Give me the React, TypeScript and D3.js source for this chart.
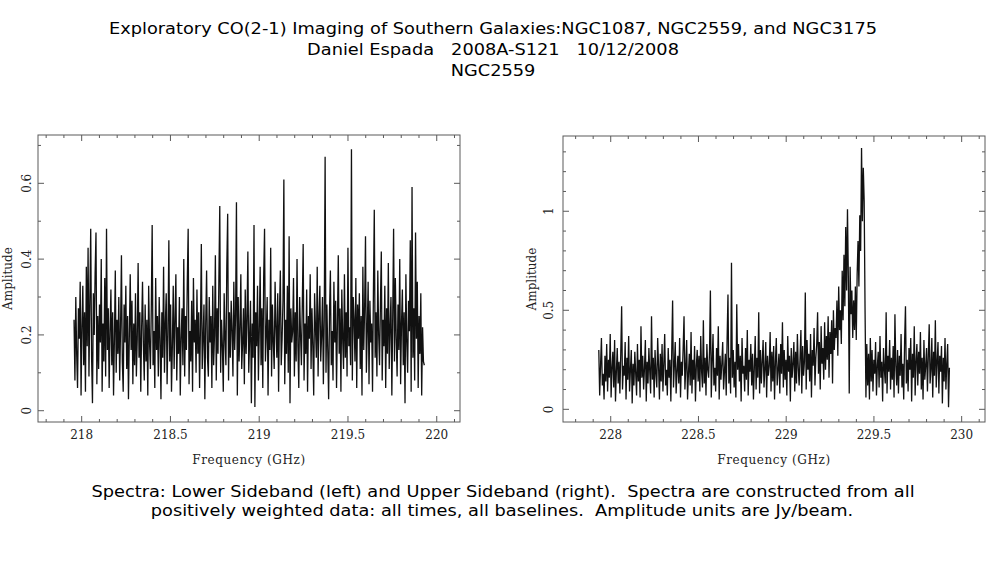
import React from "react";
import * as d3 from "d3";

// channel axis of each sideband (GHz)
const lsbStart = 217.957;
const lsbStep = 0.004945;
const usbStart = 227.932;
const usbStep = 0.005008;

// amplitudes (Jy/beam) (approx., noisy band)
const lsbAmp = [
  0.24, 0.08, 0.30, 0.15, 0.06, 0.27, 0.19, 0.34, 0.04, 0.22,
  0.33, 0.12, 0.26, 0.05, 0.38, 0.17, 0.43, 0.09, 0.29, 0.48,
  0.14, 0.02, 0.31, 0.20, 0.36, 0.47, 0.07, 0.25, 0.11, 0.28,
  0.18, 0.40, 0.05, 0.23, 0.13, 0.35, 0.09, 0.48, 0.16, 0.27,
  0.06, 0.21, 0.32, 0.12, 0.26, 0.04, 0.19, 0.37, 0.10, 0.24,
  0.15, 0.30, 0.08, 0.22, 0.41, 0.13, 0.05, 0.28, 0.18, 0.33,
  0.11, 0.25, 0.03, 0.20, 0.36, 0.16, 0.29, 0.07, 0.23, 0.12,
  0.31, 0.09, 0.19, 0.39, 0.14, 0.26, 0.05, 0.22, 0.34, 0.17,
  0.08, 0.28, 0.13, 0.24, 0.04, 0.33, 0.18, 0.11, 0.27, 0.49,
  0.12, 0.21, 0.06, 0.35, 0.16, 0.25, 0.09, 0.30, 0.19, 0.03,
  0.26, 0.14, 0.38, 0.10, 0.23, 0.31, 0.07, 0.20, 0.45, 0.13,
  0.28, 0.05, 0.17, 0.33, 0.11, 0.24, 0.36, 0.08, 0.22, 0.15,
  0.30, 0.04, 0.19, 0.27, 0.12, 0.40, 0.09, 0.25, 0.16, 0.34,
  0.48, 0.07, 0.21, 0.13, 0.29, 0.05, 0.35, 0.18, 0.24, 0.10,
  0.32, 0.15, 0.26, 0.06, 0.22, 0.44, 0.11, 0.19, 0.28, 0.03,
  0.23, 0.37, 0.14, 0.09, 0.30, 0.18, 0.25, 0.06, 0.33, 0.12,
  0.20, 0.41, 0.08, 0.27, 0.15, 0.35, 0.54, 0.10, 0.24, 0.17,
  0.05, 0.31, 0.19, 0.12, 0.38, 0.52, 0.08, 0.26, 0.14, 0.29,
  0.21, 0.09, 0.34, 0.16, 0.25, 0.55, 0.04, 0.30, 0.13, 0.22,
  0.36, 0.11, 0.18, 0.27, 0.07, 0.32, 0.15, 0.24, 0.42, 0.10,
  0.19, 0.29, 0.02, 0.23, 0.14, 0.49, 0.01, 0.26, 0.17, 0.33,
  0.08, 0.21, 0.38, 0.12, 0.27, 0.06, 0.35, 0.48, 0.13, 0.20,
  0.30, 0.04, 0.24, 0.16, 0.43, 0.09, 0.28, 0.18, 0.11, 0.34,
  0.22, 0.14, 0.31, 0.05, 0.26, 0.37, 0.12, 0.19, 0.29, 0.61,
  0.07, 0.24, 0.15, 0.33, 0.10, 0.46, 0.02, 0.27, 0.18, 0.21,
  0.35, 0.09, 0.26, 0.13, 0.40, 0.17, 0.06, 0.30, 0.20, 0.12,
  0.28, 0.44, 0.08, 0.23, 0.15, 0.32, 0.05, 0.25, 0.19, 0.36,
  0.11, 0.27, 0.17, 0.04, 0.31, 0.22, 0.14, 0.38, 0.09, 0.25,
  0.33, 0.13, 0.20, 0.30, 0.07, 0.24, 0.67, 0.10, 0.28, 0.16,
  0.03, 0.26, 0.37, 0.12, 0.21, 0.08, 0.34, 0.18, 0.29, 0.06,
  0.23, 0.41, 0.15, 0.27, 0.05, 0.32, 0.19, 0.11, 0.36, 0.14,
  0.26, 0.09, 0.43, 0.17, 0.22, 0.12, 0.69, 0.08, 0.30, 0.24,
  0.13, 0.35, 0.06, 0.28, 0.19, 0.31, 0.11, 0.25, 0.04, 0.38,
  0.16, 0.27, 0.46, 0.10, 0.21, 0.34, 0.07, 0.29, 0.18, 0.23,
  0.05, 0.31, 0.53, 0.14, 0.26, 0.09, 0.37, 0.20, 0.12, 0.28,
  0.42, 0.08, 0.24, 0.17, 0.33, 0.06, 0.27, 0.15, 0.39, 0.11,
  0.22, 0.30, 0.04, 0.25, 0.48, 0.13, 0.35, 0.19, 0.09, 0.28,
  0.16, 0.40, 0.07, 0.23, 0.32, 0.12, 0.26, 0.02, 0.36, 0.18,
  0.10, 0.29, 0.21, 0.45, 0.05, 0.59, 0.14, 0.27, 0.08, 0.47,
  0.19, 0.34, 0.06, 0.25, 0.15, 0.31, 0.04, 0.22, 0.13, 0.12,
];

const usbAmp = [
  0.30, 0.07, 0.22, 0.36, 0.12, 0.18, 0.05, 0.27, 0.14, 0.33,
  0.09, 0.25, 0.16, 0.38, 0.06, 0.21, 0.29, 0.11, 0.35, 0.04,
  0.19, 0.31, 0.13, 0.24, 0.08, 0.28, 0.52, 0.10, 0.22, 0.17,
  0.34, 0.05, 0.26, 0.15, 0.37, 0.09, 0.20, 0.30, 0.03, 0.23,
  0.12, 0.29, 0.18, 0.07, 0.33, 0.14, 0.25, 0.06, 0.42, 0.16,
  0.27, 0.10, 0.21, 0.35, 0.04, 0.24, 0.13, 0.31, 0.19, 0.08,
  0.47, 0.15, 0.26, 0.06, 0.30, 0.18, 0.11, 0.36, 0.22, 0.05,
  0.28, 0.14, 0.33, 0.09, 0.23, 0.38, 0.12, 0.20, 0.07, 0.31,
  0.16, 0.25, 0.04, 0.29, 0.55, 0.11, 0.22, 0.34, 0.08, 0.19,
  0.27, 0.13, 0.36, 0.06, 0.24, 0.17, 0.31, 0.47, 0.10, 0.21,
  0.35, 0.05, 0.18, 0.28, 0.12, 0.39, 0.08, 0.25, 0.15, 0.32,
  0.04, 0.22, 0.30, 0.14, 0.27, 0.09, 0.37, 0.19, 0.11, 0.45,
  0.13, 0.26, 0.07, 0.33, 0.20, 0.16, 0.29, 0.60, 0.06, 0.24,
  0.38, 0.12, 0.21, 0.09, 0.31, 0.17, 0.42, 0.05, 0.27, 0.15,
  0.23, 0.34, 0.10, 0.19, 0.28, 0.07, 0.35, 0.58, 0.13, 0.26,
  0.08, 0.74, 0.16, 0.30, 0.11, 0.24, 0.06, 0.53, 0.20, 0.33,
  0.14, 0.27, 0.04, 0.36, 0.18, 0.22, 0.09, 0.31, 0.15, 0.40,
  0.07, 0.25, 0.19, 0.33, 0.12, 0.28, 0.05, 0.21, 0.37, 0.10,
  0.26, 0.16, 0.49, 0.08, 0.30, 0.13, 0.24, 0.35, 0.11, 0.20,
  0.34, 0.06, 0.27, 0.17, 0.22, 0.39, 0.09, 0.29, 0.14, 0.32,
  0.05, 0.24, 0.36, 0.12, 0.20, 0.28, 0.08, 0.33, 0.18, 0.44,
  0.11, 0.30, 0.15, 0.25, 0.07, 0.37, 0.19, 0.27, 0.04, 0.31,
  0.16, 0.23, 0.34, 0.09, 0.29, 0.13, 0.38, 0.21, 0.12, 0.26,
  0.40, 0.08, 0.32, 0.17, 0.24, 0.59, 0.10, 0.35, 0.20, 0.28,
  0.14, 0.38, 0.06, 0.30, 0.22, 0.41, 0.12, 0.26, 0.33, 0.49,
  0.18, 0.34, 0.10, 0.42, 0.23, 0.31, 0.15, 0.44, 0.20, 0.37,
  0.25, 0.47, 0.16, 0.39, 0.28, 0.45, 0.13, 0.50, 0.30, 0.41,
  0.36, 0.55, 0.27, 0.62, 0.40, 0.50, 0.33, 0.70, 0.45, 0.78,
  0.52, 0.92, 0.60, 1.01, 0.66, 0.08, 0.72, 0.48, 0.60, 0.36,
  0.55, 0.40, 0.62, 0.35, 0.68, 0.85, 0.62, 0.98, 0.80, 1.32,
  0.95, 1.22, 1.05, 0.50, 0.06, 0.33, 0.12, 0.28, 0.05, 0.36,
  0.14, 0.30, 0.09, 0.25, 0.18, 0.34, 0.07, 0.22, 0.29, 0.11,
  0.37, 0.16, 0.24, 0.04, 0.31, 0.20, 0.13, 0.49, 0.08, 0.27,
  0.19, 0.35, 0.10, 0.26, 0.15, 0.32, 0.06, 0.48, 0.22, 0.12,
  0.30, 0.08, 0.27, 0.17, 0.38, 0.11, 0.23, 0.05, 0.34, 0.52,
  0.13, 0.25, 0.09, 0.31, 0.20, 0.36, 0.04, 0.28, 0.16, 0.42,
  0.07, 0.24, 0.33, 0.12, 0.29, 0.18, 0.39, 0.10, 0.26, 0.05,
  0.35, 0.15, 0.22, 0.31, 0.09, 0.27, 0.43, 0.13, 0.20, 0.36,
  0.06, 0.29, 0.17, 0.45, 0.11, 0.24, 0.34, 0.08, 0.27, 0.19,
  0.32, 0.03, 0.26, 0.14, 0.36, 0.10, 0.23, 0.33, 0.01, 0.21,
];

const lsbTicks = [218, 218.5, 219, 219.5, 220];
const usbTicks = [228, 228.5, 229, 229.5, 230];
const lsbYTicks = [0, 0.2, 0.4, 0.6];
const usbYTicks = [0, 0.5, 1];

const titleLines = [
  "Exploratory CO(2-1) Imaging of Southern Galaxies:NGC1087, NGC2559, and NGC3175",
  "Daniel Espada   2008A-S121   10/12/2008",
  "NGC2559",
];
const captionLines = [
  "Spectra: Lower Sideband (left) and Upper Sideband (right).  Spectra are constructed from all",
  "positively weighted data: all times, all baselines.  Amplitude units are Jy/beam.",
];

const axisFont = "'DejaVu Serif', serif";
const sansFont = "'DejaVu Sans Condensed', 'DejaVu Sans', sans-serif";
const frameColor = "#5a5a5a";
const textStretch = 1.235; // the page text is drawn wide

interface PanelProps {
  left: number;
  top: number;
  width: number;
  height: number;
  xDomain: [number, number];
  yDomain: [number, number];
  start: number;
  step: number;
  amp: number[];
  xTicks: number[];
  yTicks: number[];
  labelX: number; // x of the rotated "Amplitude" baseline
  tickLabelX: number; // x of the rotated y tick label baseline
}

const Panel: React.FC<PanelProps> = ({
  left, top, width, height, xDomain, yDomain, start, step, amp,
  xTicks, yTicks, labelX, tickLabelX,
}) => {
  const x = d3.scaleLinear().domain(xDomain).range([left, left + width]);
  const y = d3.scaleLinear().domain(yDomain).range([top + height, top]);
  const bottom = top + height;
  const right = left + width;

  const line = d3
    .line<number>()
    .x((_, i) => x(start + i * step))
    .y((d) => y(d));

  // minor ticks every 0.1 along both axes
  const xMinor = d3.range(Math.ceil(xDomain[0] * 10), Math.floor(xDomain[1] * 10) + 1).map((v) => v / 10);
  const yMinor = d3.range(Math.ceil(yDomain[0] * 10), Math.floor(yDomain[1] * 10) + 1).map((v) => v / 10);
  const isMajorX = (v: number) => xTicks.some((t) => Math.abs(t - v) < 1e-6);
  const isMajorY = (v: number) => yTicks.some((t) => Math.abs(t - v) < 1e-6);

  return (
    <g>
      <path d={line(amp) ?? ""} fill="none" stroke="#111" strokeWidth={1.3} />

      <rect x={left} y={top} width={width} height={height} fill="none" stroke={frameColor} strokeWidth={1} />

      {xMinor.map((v) => {
        const len = isMajorX(v) ? 6 : 3;
        return (
          <g key={`xt-${v}`} stroke={frameColor} strokeWidth={1}>
            <line x1={x(v)} x2={x(v)} y1={bottom} y2={bottom - len} />
            <line x1={x(v)} x2={x(v)} y1={top} y2={top + len} />
          </g>
        );
      })}
      {yMinor.map((v) => {
        const len = isMajorY(v) ? 6 : 3;
        return (
          <g key={`yt-${v}`} stroke={frameColor} strokeWidth={1}>
            <line x1={left} x2={left + len} y1={y(v)} y2={y(v)} />
            <line x1={right} x2={right - len} y1={y(v)} y2={y(v)} />
          </g>
        );
      })}

      {xTicks.map((t) => (
        <text key={`xl-${t}`} x={x(t)} y={439} textAnchor="middle" fontFamily={axisFont} fontSize={12} fill="#222">
          {t}
        </text>
      ))}
      {yTicks.map((t) => (
        <text
          key={`yl-${t}`}
          transform={`translate(${tickLabelX},${y(t)}) rotate(-90)`}
          textAnchor="middle"
          fontFamily={axisFont}
          fontSize={12}
          fill="#222"
        >
          {t}
        </text>
      ))}

      <text
        x={(left + right) / 2}
        y={464}
        textAnchor="middle"
        fontFamily={axisFont}
        fontSize={12}
        letterSpacing={0.6}
        fill="#222"
      >
        Frequency (GHz)
      </text>
      <text
        transform={`translate(${labelX},${(top + bottom) / 2}) rotate(-90)`}
        textAnchor="middle"
        fontFamily={axisFont}
        fontSize={12}
        fill="#222"
      >
        Amplitude
      </text>
    </g>
  );
};

export default function App() {
  const titleY = [34, 55, 75.5];
  const captionY = [497, 516];
  const captionX = [503, 502];
  return (
    <div style={{ position: "absolute", left: 0, top: 0 }}>
      <svg width={987} height={567} style={{ display: "block", background: "#fff" }}>
        {titleLines.map((t, i) => (
          <text
            key={t}
            transform={`translate(493,${titleY[i]}) scale(${textStretch},1)`}
            textAnchor="middle"
            fontFamily={sansFont}
            fontSize={16}
            fill="#000"
            style={{ whiteSpace: "pre" }}
          >
            {t}
          </text>
        ))}

        <Panel
          left={38}
          top={135}
          width={422}
          height={287}
          xDomain={[217.754, 220.131]}
          yDomain={[-0.0298, 0.7275]}
          start={lsbStart}
          step={lsbStep}
          amp={lsbAmp}
          xTicks={lsbTicks}
          yTicks={lsbYTicks}
          labelX={12}
          tickLabelX={31}
        />
        <Panel
          left={563}
          top={136}
          width={422}
          height={286}
          xDomain={[227.728, 230.133]}
          yDomain={[-0.064, 1.38]}
          start={usbStart}
          step={usbStep}
          amp={usbAmp}
          xTicks={usbTicks}
          yTicks={usbYTicks}
          labelX={536}
          tickLabelX={553}
        />

        {captionLines.map((t, i) => (
          <text
            key={t}
            transform={`translate(${captionX[i]},${captionY[i]}) scale(${textStretch},1)`}
            textAnchor="middle"
            fontFamily={sansFont}
            fontSize={16}
            fill="#000"
            style={{ whiteSpace: "pre" }}
          >
            {t}
          </text>
        ))}
      </svg>
    </div>
  );
}
